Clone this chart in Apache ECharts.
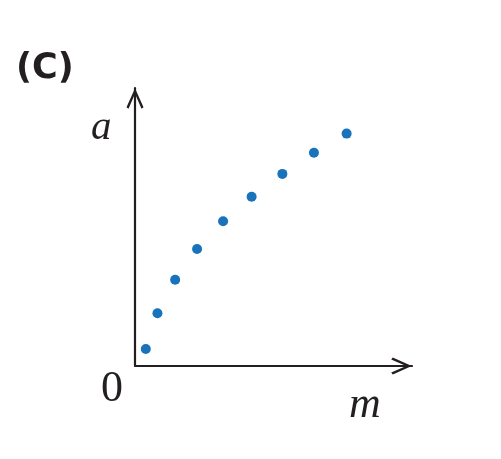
<!DOCTYPE html>
<html>
<head>
<meta charset="utf-8">
<script src="https://cdn.jsdelivr.net/npm/echarts@6/dist/echarts.min.js"></script>
<style>
html,body{margin:0;padding:0;background:#fff;}
#main{width:501px;height:459px;}
</style>
</head>
<body>
<div id="main"></div>
<script>
// Data (arbitrary units, axes span 0..10)
var mValues = [0.39, 0.81, 1.45, 2.24, 3.18, 4.21, 5.32, 6.46, 7.64];
var aValues = [0.61, 1.90, 3.10, 4.21, 5.21, 6.09, 6.91, 7.67, 8.36];
var panelLabel = '(C)';
var xName = 'm';
var yName = 'a';
var originLabel = '0';

var points = mValues.map(function (m, i) { return [m, aValues[i]]; });

var axisColor = '#231f20';
var chevron = 'path://M8.5,0 L17,19 L15,20.6 L8.5,5.6 L2,20.6 L0,19 Z';

var axisCommon = {
  type: 'value',
  min: 0,
  max: 10,
  axisLabel: { show: false },
  axisTick: { show: false },
  splitLine: { show: false },
  axisLine: {
    show: true,
    onZero: false,
    symbol: ['none', chevron],
    symbolSize: [17, 21],
    symbolOffset: [0, -10.5],
    lineStyle: { color: axisColor, width: 2.2 }
  }
};

var chart = echarts.init(document.getElementById('main'), null, { renderer: 'canvas' });
chart.setOption({
  backgroundColor: '#ffffff',
  animation: false,
  grid: { left: 135, right: 89, top: 88, bottom: 93, containLabel: false },
  xAxis: axisCommon,
  yAxis: axisCommon,
  series: [{
    type: 'scatter',
    data: points,
    symbol: 'circle',
    symbolSize: 10,
    itemStyle: { color: '#1872bc', opacity: 1 }
  }],
  graphic: [
    { type: 'text', left: 16, top: 51,
      style: { text: panelLabel, font: 'bold 35px "DejaVu Sans"', fill: '#231f20' } },
    { type: 'text', left: 91, top: 108,
      style: { text: yName, font: 'italic 41px "Liberation Serif"', fill: '#231f20' } },
    { type: 'text', left: 101, top: 367,
      style: { text: originLabel, font: '44px "Liberation Serif"', fill: '#231f20' } },
    { type: 'text', left: 349, top: 383,
      style: { text: xName, font: 'italic 44px "Liberation Serif"', fill: '#231f20' } }
  ]
});
</script>
</body>
</html>
